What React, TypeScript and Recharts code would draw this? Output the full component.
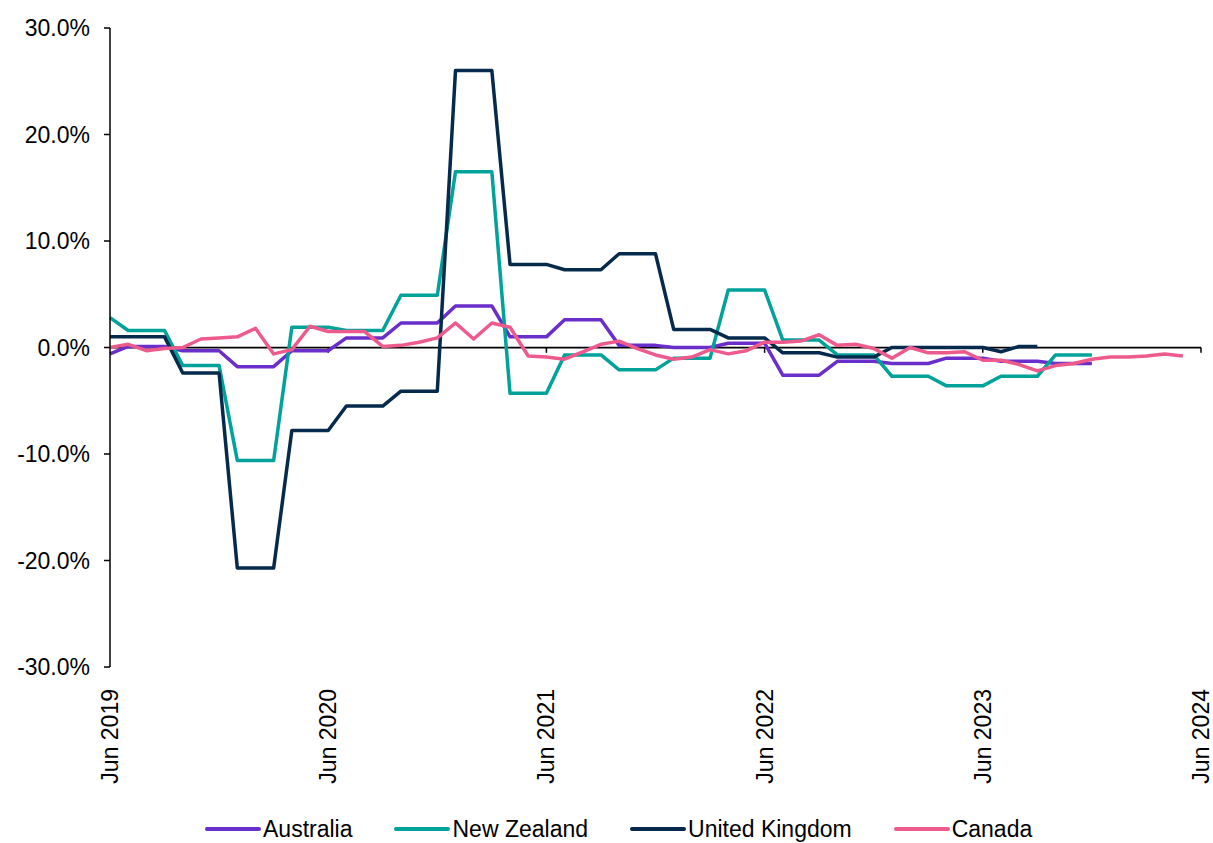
import { Legend, Line, LineChart, ReferenceLine, XAxis, YAxis } from "recharts"

// monthly, Jun 2019 = index 0
const australia = [
  -0.6, 0.1, 0.1, 0.1, -0.3, -0.3, -0.3, -1.8, -1.8, -1.8, -0.3, -0.3, -0.3, 0.9, 0.9, 0.9, 2.3, 2.3, 2.3,
  3.9, 3.9, 3.9, 1.0, 1.0, 1.0, 2.6, 2.6, 2.6, 0.2, 0.2, 0.2, 0.0, 0.0, 0.0, 0.4, 0.4, 0.4, -2.6, -2.6, -2.6,
  -1.3, -1.3, -1.3, -1.5, -1.5, -1.5, -1.0, -1.0, -1.0, -1.3, -1.3, -1.3, -1.5, -1.5, -1.5,
]
const newZealand = [
  2.8, 1.6, 1.6, 1.6, -1.7, -1.7, -1.7, -10.6, -10.6, -10.6, 1.9, 1.9, 1.9, 1.6, 1.6, 1.6, 4.9, 4.9, 4.9,
  16.5, 16.5, 16.5, -4.3, -4.3, -4.3, -0.7, -0.7, -0.7, -2.1, -2.1, -2.1, -1.0, -1.0, -1.0, 5.4, 5.4, 5.4,
  0.7, 0.7, 0.7, -0.7, -0.7, -0.7, -2.7, -2.7, -2.7, -3.6, -3.6, -3.6, -2.7, -2.7, -2.7, -0.7, -0.7, -0.7,
]
const unitedKingdom = [
  1.0, 1.0, 1.0, 1.0, -2.4, -2.4, -2.4, -20.7, -20.7, -20.7, -7.8, -7.8, -7.8, -5.5, -5.5, -5.5, -4.1, -4.1,
  -4.1, 26.0, 26.0, 26.0, 7.8, 7.8, 7.8, 7.3, 7.3, 7.3, 8.8, 8.8, 8.8, 1.7, 1.7, 1.7, 0.9, 0.9, 0.9, -0.5,
  -0.5, -0.5, -0.9, -0.9, -0.9, 0.0, 0.0, 0.0, 0.0, 0.0, 0.0, -0.4, 0.1, 0.1,
]
const canada = [
  0.0, 0.3, -0.3, -0.1, 0.0, 0.8, 0.9, 1.0, 1.8, -0.6, -0.2, 2.0, 1.5, 1.5, 1.5, 0.1, 0.2, 0.5, 0.9, 2.3,
  0.8, 2.3, 1.9, -0.8, -0.9, -1.1, -0.4, 0.3, 0.6, -0.1, -0.7, -1.1, -0.9, -0.2, -0.6, -0.3, 0.5, 0.5, 0.6,
  1.2, 0.2, 0.3, -0.1, -1.0, 0.0, -0.5, -0.5, -0.4, -1.2, -1.2, -1.6, -2.2, -1.7, -1.5, -1.1, -0.9, -0.9,
  -0.8, -0.6, -0.8,
]

const xTicks = [0, 12, 24, 36, 48, 60]
const xTickLabels = ["Jun 2019", "Jun 2020", "Jun 2021", "Jun 2022", "Jun 2023", "Jun 2024"]
const yTicks = [-30, -20, -10, 0, 10, 20, 30]

const series = [
  { key: "australia", name: "Australia", color: "#6a2fca" },
  { key: "newZealand", name: "New Zealand", color: "#00a29a" },
  { key: "unitedKingdom", name: "United Kingdom", color: "#062a4c" },
  { key: "canada", name: "Canada", color: "#ee5a8b" },
]

const data = canada.map((_, m) => ({
  m,
  australia: australia[m] ?? null,
  newZealand: newZealand[m] ?? null,
  unitedKingdom: unitedKingdom[m] ?? null,
  canada: canada[m] ?? null,
}))

const FONT = "'Liberation Sans', Arial, sans-serif"

function XTick({ x, y, payload }: any) {
  const label = xTickLabels[xTicks.indexOf(payload.value)]
  return (
    <text
      x={x}
      y={y}
      transform={`rotate(-90, ${x}, ${y})`}
      textAnchor="end"
      dy="0.35em"
      fontSize={23}
      fontFamily={FONT}
      fill="#000"
    >
      {label}
    </text>
  )
}

function LegendContent() {
  return (
    <div
      style={{
        display: "flex",
        alignItems: "center",
        height: 28,
        paddingLeft: 205,
        fontFamily: FONT,
        fontSize: 23,
        color: "#000",
      }}
    >
      {series.map((s) => (
        <div key={s.key} style={{ display: "flex", alignItems: "center", marginRight: 42 }}>
          <svg width={56} height={8} style={{ marginRight: 2 }}>
            <line x1={2} y1={4} x2={54} y2={4} stroke={s.color} strokeWidth={4} strokeLinecap="round" />
          </svg>
          <span>{s.name}</span>
        </div>
      ))}
    </div>
  )
}

export default function App() {
  return (
    <div style={{ position: "absolute", left: 0, top: 0, width: 1213, height: 843 }}>
      <LineChart
        width={1213}
        height={843}
        data={data}
        margin={{ top: 28, right: 12, bottom: 0, left: 18 }}
        style={{ fontFamily: FONT }}
      >
        <XAxis
          dataKey="m"
          type="number"
          domain={[0, 60]}
          ticks={xTicks}
          axisLine={false}
          tickLine={false}
          height={148}
          tick={<XTick />}
          tickMargin={16}
          interval={0}
        />
        <YAxis
          type="number"
          domain={[-30, 30]}
          ticks={yTicks}
          width={92}
          interval={0}
          axisLine={{ stroke: "#000", strokeWidth: 1.5 }}
          tickLine={{ stroke: "#000", strokeWidth: 1.5 }}
          tickSize={6}
          tickMargin={14}
          tickFormatter={(v: number) => `${v.toFixed(1)}%`}
          tick={{ fontSize: 23, fill: "#000", fontFamily: FONT }}
        />
        <ReferenceLine y={0} stroke="#000" strokeWidth={1.75} />
        {xTicks.slice(1).map((t) => (
          <ReferenceLine
            key={t}
            segment={[
              { x: t, y: 0 },
              { x: t, y: -0.5 },
            ]}
            stroke="#000"
            strokeWidth={1.5}
          />
        ))}
        {series.map((s) => (
          <Line
            key={s.key}
            type="linear"
            dataKey={s.key}
            name={s.name}
            stroke={s.color}
            strokeWidth={3.5}
            dot={false}
            activeDot={false}
            strokeLinejoin="round"
            isAnimationActive={false}
          />
        ))}
        <Legend
          verticalAlign="bottom"
          content={<LegendContent />}
          wrapperStyle={{ left: 0, width: 1213, bottom: 0 }}
        />
      </LineChart>
    </div>
  )
}
